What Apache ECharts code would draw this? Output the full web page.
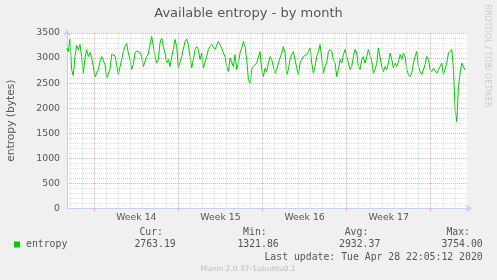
<!DOCTYPE html>
<html><head><meta charset="utf-8">
<script src="https://cdn.jsdelivr.net/npm/echarts@6/dist/echarts.min.js"></script>
<style>html,body{margin:0;padding:0;background:#f0f0f0;}#c{width:497px;height:280px;}</style>
</head><body><div id="c"></div>
<script>
// ---- chart content ----
const chartTitle = 'Available entropy - by month';
const yAxisName = 'entropy (bytes)';
const seriesName = 'entropy';
const weekLabels = ['Week 14', 'Week 15', 'Week 16', 'Week 17'];
// hours relative to Mon 30 Mar 2020 00:00
const weekStartHours = [0, 168, 336, 504, 672];
const dayLineHours = [-48, -24, 0, 24, 48, 72, 96, 120, 144, 168, 192, 216, 240, 264, 288, 312, 336, 360, 384, 408, 432, 456, 480, 504, 528, 552, 576, 600, 624, 648, 672, 696, 720, 744];
const xRange = [-54.5, 747];
const yTicks = [0, 500, 1000, 1500, 2000, 2500, 3000, 3500];
const startHour = -55.2;
const stepHours = 3.33;
const entropy = [
3200,3130,3380,2770,2650,3030,3250,3170,3270,3030,
2700,3000,3170,3030,3110,3000,2830,2620,2620,2770,
2930,3030,3020,2870,2600,2600,2770,3070,3080,3050,
3030,2670,2700,2970,3130,3230,3290,3100,2970,2770,
2870,3100,3140,3130,3110,3030,2830,2800,3030,3080,
3270,3430,3230,3030,2900,2970,3300,3400,3230,3100,
2900,2970,2830,3030,3170,3370,3230,2800,2830,3030,
3180,3330,3380,3270,3030,2800,2970,3170,3230,3170,
2970,3100,2800,2800,3030,3170,3230,3270,3300,3170,
3200,3330,3350,3200,3100,3030,2830,2730,3000,3030,
2830,3070,2770,2900,3100,3200,3330,3230,2970,2570,
2500,2770,2830,2800,2900,2870,
3130,2770,2630,2800,2730,2900,3030,2970,2830,2700,
2770,2900,3000,3100,3230,3100,2670,2770,2970,3070,
3130,3100,2800,2670,2900,2970,3030,3000,3070,3130,
3200,2900,2700,2830,3030,3130,3270,3000,2700,2830,
2900,3130,3170,3130,2970,2900,2630,2770,2970,2900,
3070,3170,3200,2900,2770,2830,3030,3170,3100,2830,
2770,2970,3030,2900,3030,3170,3200,2930,2700,2770,
2900,3200,3170,2830,2730,2830,2770,2900,3100,2970,
2800,2900,2830,2930,3070,2970,3100,3030,2770,2670,
2630,2700,2900,3030,3130,2830,2730,2670,2700,2870,
3030,2970,2770,2730,2800,2770,2700,2730,2830,2900,
2670,2700,2900,3100,3130,3170,2770,1970,1730,2430,
2700,2900,2930,2760
];
const statHeaders = ['Cur:', 'Min:', 'Avg:', 'Max:'];
const statValues = ['2763.19', '1321.86', '2932.37', '3754.00'];
const lastUpdate = 'Last update: Tue Apr 28 22:05:12 2020';
const footerText = 'Munin 2.0.37-1ubuntu0.1';
const watermark = 'RRDTOOL / TOBI OETIKER';

// ---- styling ----
const FONT = 'DejaVu Sans';
const MONO = 'DejaVu Sans Mono';
const fontColor = '#555555';
const axisColor = '#c8cff5';
const gridColor = '#dcdcdc';
const majorColor = '#eea8a8';
const lineColor = '#00cc00';

const weekCenters = weekStartHours.slice(0, weekLabels.length).map(h => h + 84);
const seriesData = entropy.map((v, i) => [startHour + i * stepHours, v]);

const chart = echarts.init(document.getElementById('c'), null, {renderer: 'canvas'});

const headerRight = [163, 266.7, 368.3, 470];
const valueRight = [175.7, 278.7, 380.3, 482.7];
const graphics = [
  {type: 'text', x: 248.5, y: 13.5, style: {text: chartTitle, font: '13px "' + FONT + '"', fill: fontColor, align: 'center', verticalAlign: 'middle'}},
  {type: 'text', x: 487, y: 56, rotation: -Math.PI / 2, style: {text: watermark, font: '8px "' + FONT + '"', fill: '#cccccc', align: 'center', verticalAlign: 'middle'}},
  {type: 'rect', shape: {x: 14, y: 241.5, width: 6, height: 6}, style: {fill: lineColor}},
  {type: 'text', x: 26, y: 244, style: {text: seriesName, font: '9.8px "' + MONO + '"', fill: fontColor, align: 'left', verticalAlign: 'middle'}},
  {type: 'text', x: 482.7, y: 257, style: {text: lastUpdate, font: '9.8px "' + MONO + '"', fill: fontColor, align: 'right', verticalAlign: 'middle'}},
  {type: 'text', x: 248, y: 269.5, style: {text: footerText, font: '7.5px "' + FONT + '"', fill: '#bbbbbb', align: 'center', verticalAlign: 'middle'}}
];
statHeaders.forEach((t, i) => graphics.push({type: 'text', x: headerRight[i], y: 232, style: {text: t, font: '9.8px "' + MONO + '"', fill: fontColor, align: 'right', verticalAlign: 'middle'}}));
statValues.forEach((t, i) => graphics.push({type: 'text', x: valueRight[i], y: 244, style: {text: t, font: '9.8px "' + MONO + '"', fill: fontColor, align: 'right', verticalAlign: 'middle'}}));

chart.setOption({
  animation: false,
  backgroundColor: '#f0f0f0',
  grid: {left: 67, right: 28.7, top: 33, bottom: 71.7, show: true, backgroundColor: '#ffffff', borderWidth: 0, containLabel: false, outerBoundsMode: 'none'},
  xAxis: {
    type: 'value', min: xRange[0], max: xRange[1],
    axisLine: {show: true, onZero: false, lineStyle: {color: axisColor, width: 1}, symbol: ['none', 'arrow'], symbolSize: [6, 7], symbolOffset: [0, 4]},
    axisTick: {show: true, customValues: weekStartHours, length: 3, inside: false, lineStyle: {color: majorColor}},
    axisLabel: {customValues: weekCenters, formatter: v => weekLabels[weekCenters.indexOf(v)] || '', color: fontColor, fontFamily: FONT, fontSize: 9.33, margin: 5},
    splitLine: {show: false}
  },
  yAxis: {
    type: 'value', min: yTicks[0], max: yTicks[yTicks.length - 1], interval: yTicks[1] - yTicks[0],
    name: yAxisName, nameLocation: 'middle', nameGap: 50, nameRotate: 90, nameMoveOverlap: false,
    nameTextStyle: {color: fontColor, fontFamily: FONT, fontSize: 10.67},
    axisLine: {show: true, onZero: false, lineStyle: {color: axisColor, width: 1}, symbol: ['none', 'arrow'], symbolSize: [6, 7], symbolOffset: [0, 4]},
    axisTick: {show: false},
    axisLabel: {formatter: v => String(v), color: fontColor, fontFamily: FONT, fontSize: 9.33, margin: 7},
    splitLine: {show: true, lineStyle: {color: majorColor, type: [1, 1], width: 1}},
    minorTick: {show: false, splitNumber: 5},
    minorSplitLine: {show: true, lineStyle: {color: gridColor, type: [1, 1], width: 1}}
  },
  series: [
    {
      type: 'line', data: [], z: 1, silent: true,
      markLine: {
        silent: true, symbol: ['none', 'none'], label: {show: false}, animation: false,
        data: dayLineHours.filter(h => weekStartHours.indexOf(h) < 0).map(h => ({xAxis: h, lineStyle: {color: gridColor, type: [1, 1], width: 1}}))
          .concat(weekStartHours.map(h => ({xAxis: h, lineStyle: {color: majorColor, type: [1, 1], width: 1}})))
      }
    },
    {
      name: seriesName, type: 'line', data: seriesData, z: 3, showSymbol: false, symbol: 'none',
      lineStyle: {color: lineColor, width: 1}, clip: true
    }
  ],
  graphic: graphics
});
</script>
</body></html>
